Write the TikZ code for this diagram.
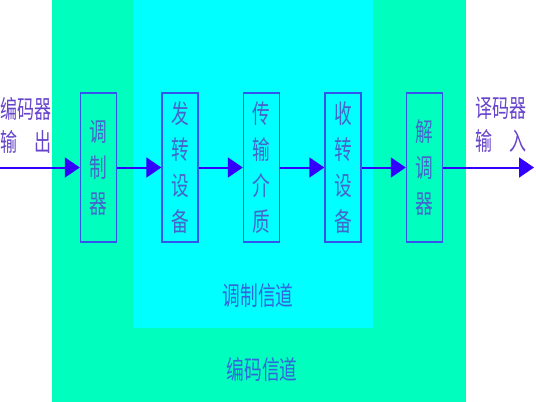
\documentclass[tikz,border=0pt]{standalone}
\usepackage{fontspec}
\newfontfamily\cjk[FakeStretch=0.68]{Noto Sans CJK SC}
\definecolor{codegreen}{HTML}{00FFBF}
\definecolor{modcyan}{HTML}{00FFFF}
\definecolor{boxblue}{HTML}{3355EE}
\definecolor{flowblue}{HTML}{3300FF}
\definecolor{boxtext}{HTML}{4466CC}
\definecolor{sidetext}{HTML}{6644CC}
\definecolor{chtext}{HTML}{3366DD}
\usepackage{tikz}
\usetikzlibrary{arrows.meta, positioning}

\begin{document}
\begin{tikzpicture}[x=1pt, y=-1pt,
  unit/.style={draw=boxblue, line width=1.5pt, minimum width=36pt, minimum height=149pt,
               inner sep=0pt, align=center, text=boxtext, font=\fontsize{26}{36}\selectfont\cjk},
  flow/.style={draw=flowblue, line width=2pt, -{Triangle[length=15pt, width=20pt]}},
  side/.style={align=left, text=sidetext, inner sep=0pt, font=\fontsize{25}{33}\selectfont\cjk},
  chlabel/.style={text=chtext, inner sep=0pt, font=\fontsize{26}{26}\selectfont\cjk},
]
  \useasboundingbox (0,0) rectangle (536,402);
  \fill[white] (0,0) rectangle (536,402);
  \fill[codegreen] (52,0) rectangle (466,402);
  \fill[modcyan] (133,0) rectangle (373,328);

  \node[unit] (mod) at (98.5,167.5) {调\\制\\器};
  \node[unit, right=44pt of mod] (txconv) {发\\转\\设\\备};
  \node[unit, right=44pt of txconv] (medium) {传\\输\\介\\质};
  \node[unit, right=44pt of medium] (rxconv) {收\\转\\设\\备};
  \node[unit, right=44pt of rxconv] (demod) {解\\调\\器};

  \node[side] (encout) at (26,125) {编码器\\输　出};
  \node[side] (decin) at (501,125) {译码器\\输　入};

  \coordinate (src) at (0,167.5);
  \coordinate (dst) at (534,167.5);

  \draw[flow] (src) -- (mod);
  \draw[flow] (mod) -- (txconv);
  \draw[flow] (txconv) -- (medium);
  \draw[flow] (medium) -- (rxconv);
  \draw[flow] (rxconv) -- (demod);
  \draw[flow] (demod) -- (dst);

  \node[chlabel] (modch) at (258,296) {调制信道};
  \node[chlabel] (codech) at (262,370) {编码信道};
\end{tikzpicture}
\end{document}
